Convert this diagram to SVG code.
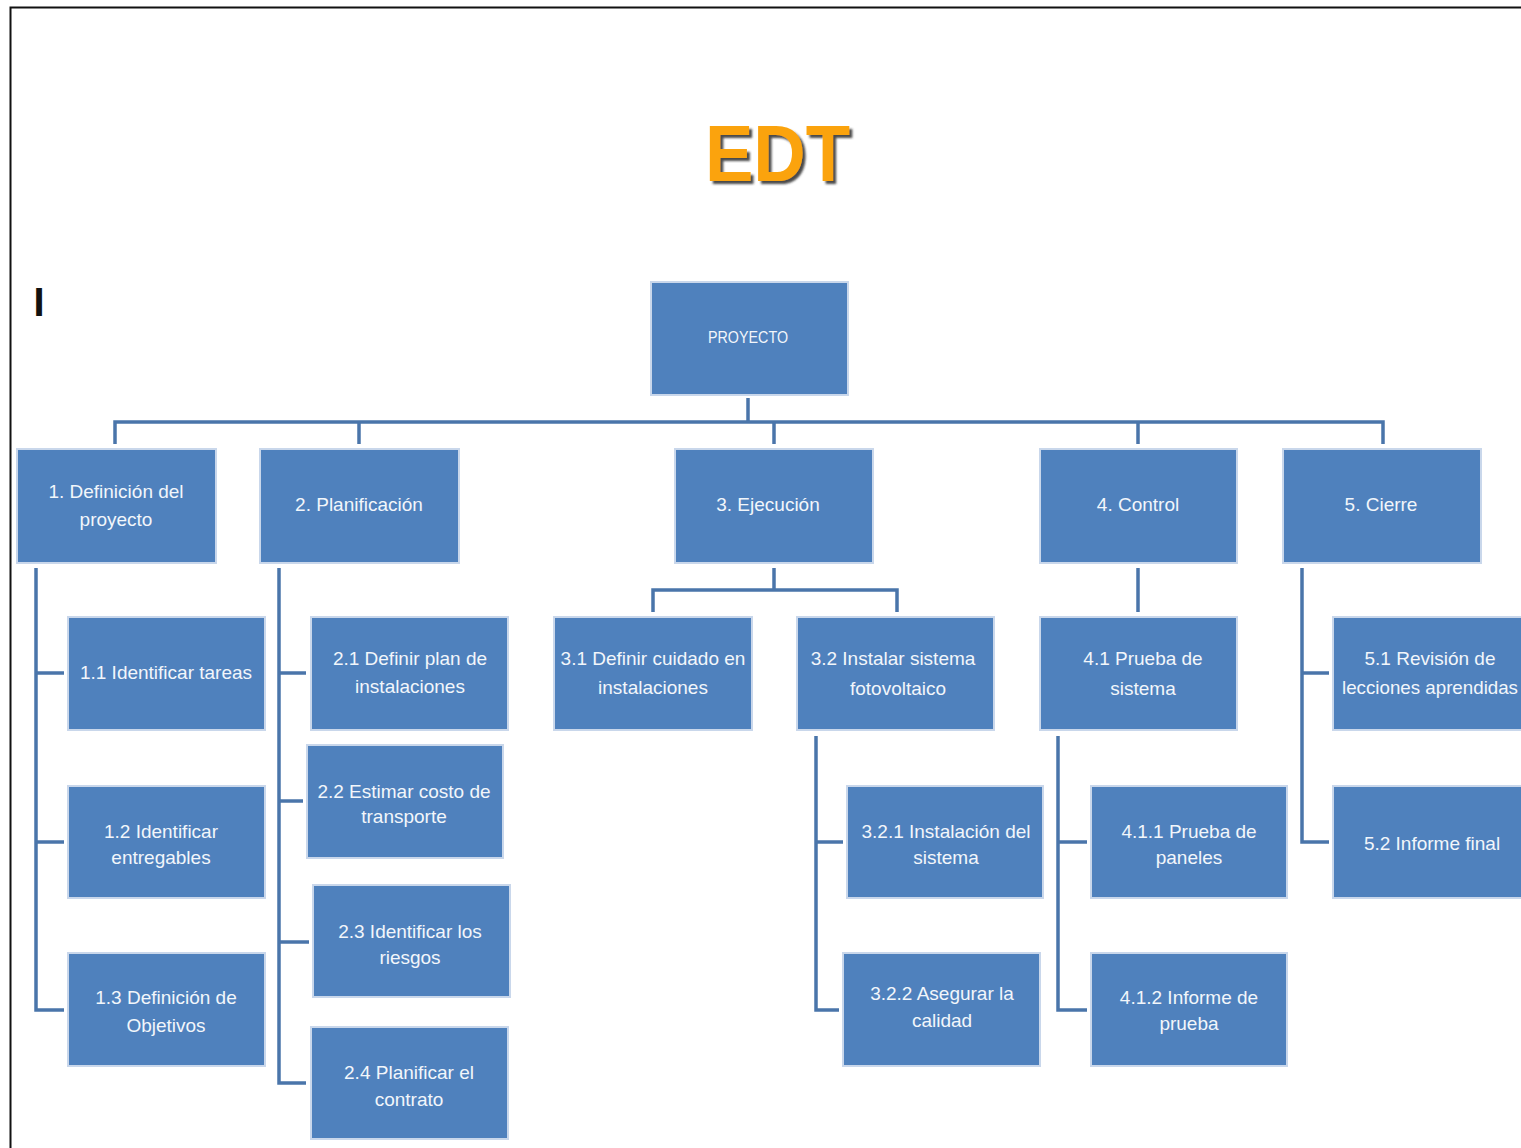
<svg xmlns="http://www.w3.org/2000/svg" width="1521" height="1148" viewBox="0 0 1521 1148">
  <defs>
    <filter id="titleShadow" x="-20%" y="-20%" width="140%" height="150%">
      <feDropShadow dx="3" dy="3" stdDeviation="1.2" flood-color="#2a2a2a" flood-opacity="0.85"/>
    </filter>
  </defs>
  <style>
    .box { fill: #4F81BD; stroke: #C9D7EB; stroke-width: 2; }
    .lbl { font-family: "Liberation Sans", Arial, sans-serif; font-size: 19px; fill: #F2F6FB; text-anchor: middle; }
    .lbl.small { font-size: 17px; }
    .wire { fill: none; stroke: #4A75AA; stroke-width: 3.5; }
    .title { font-family: "Liberation Sans", Arial, sans-serif; font-weight: bold; font-size: 80px; fill: #FBA30A; }
  </style>

  <!-- page background and frame -->
  <rect x="0" y="0" width="1521" height="1148" fill="#FFFFFF"/>
  <path d="M10.5 1148 V7.5 H1521" fill="none" stroke="#111" stroke-width="2"/>

  <!-- heading -->
  <text class="title" x="705" y="181" textLength="145" lengthAdjust="spacingAndGlyphs" filter="url(#titleShadow)">EDT</text>
  <text x="39" y="316" font-family="Liberation Sans, Arial, sans-serif" font-size="40" font-weight="bold" fill="#111" text-anchor="middle">I</text>

  <!-- connectors -->
  <g id="connectors">
    <!-- root to level 1 -->
    <path class="wire" d="M748 398 V422"/>
    <path class="wire" d="M115 444 V422 H1383 V444"/>
    <path class="wire" d="M359 422 V444"/>
    <path class="wire" d="M774 422 V444"/>
    <path class="wire" d="M1138 422 V444"/>
    <!-- 1. Definición del proyecto -->
    <path class="wire" d="M36 568 V1010 H64"/>
    <path class="wire" d="M36 673 H64"/>
    <path class="wire" d="M36 842 H64"/>
    <!-- 2. Planificación -->
    <path class="wire" d="M279 568 V1083 H306"/>
    <path class="wire" d="M279 673 H306"/>
    <path class="wire" d="M279 801 H303"/>
    <path class="wire" d="M279 942 H309"/>
    <!-- 3. Ejecución -->
    <path class="wire" d="M774 568 V590"/>
    <path class="wire" d="M653 612 V590 H897 V612"/>
    <!-- 3.2 sub-tasks -->
    <path class="wire" d="M816 736 V1010 H839"/>
    <path class="wire" d="M816 842 H843"/>
    <!-- 4. Control -->
    <path class="wire" d="M1138 568 V612"/>
    <!-- 4.1 sub-tasks -->
    <path class="wire" d="M1058 736 V1010 H1087"/>
    <path class="wire" d="M1058 842 H1087"/>
    <!-- 5. Cierre -->
    <path class="wire" d="M1302 568 V842 H1329"/>
    <path class="wire" d="M1302 673 H1329"/>
  </g>

  <!-- root -->
  <g id="n-proyecto">
    <rect class="box" x="651" y="282" width="197" height="113"/>
    <text class="lbl small" x="748" y="343" textLength="80" lengthAdjust="spacingAndGlyphs">PROYECTO</text>
  </g>

  <!-- level 1 -->
  <g id="n-1">
    <rect class="box" x="17" y="449" width="199" height="114"/>
    <text class="lbl" x="116" y="498">1. Definición del</text>
    <text class="lbl" x="116" y="526">proyecto</text>
  </g>
  <g id="n-2">
    <rect class="box" x="260" y="449" width="199" height="114"/>
    <text class="lbl" x="359" y="511">2. Planificación</text>
  </g>
  <g id="n-3">
    <rect class="box" x="675" y="449" width="198" height="114"/>
    <text class="lbl" x="768" y="511">3. Ejecución</text>
  </g>
  <g id="n-4">
    <rect class="box" x="1040" y="449" width="197" height="114"/>
    <text class="lbl" x="1138" y="511">4. Control</text>
  </g>
  <g id="n-5">
    <rect class="box" x="1283" y="449" width="198" height="114"/>
    <text class="lbl" x="1381" y="511">5. Cierre</text>
  </g>

  <!-- branch 1 -->
  <g id="n-1-1">
    <rect class="box" x="68" y="617" width="197" height="113"/>
    <text class="lbl" x="166" y="679">1.1 Identificar tareas</text>
  </g>
  <g id="n-1-2">
    <rect class="box" x="68" y="786" width="197" height="112"/>
    <text class="lbl" x="161" y="838">1.2 Identificar</text>
    <text class="lbl" x="161" y="864">entregables</text>
  </g>
  <g id="n-1-3">
    <rect class="box" x="68" y="953" width="197" height="113"/>
    <text class="lbl" x="166" y="1004">1.3 Definición de</text>
    <text class="lbl" x="166" y="1032">Objetivos</text>
  </g>

  <!-- branch 2 -->
  <g id="n-2-1">
    <rect class="box" x="311" y="617" width="197" height="113"/>
    <text class="lbl" x="410" y="665">2.1 Definir plan de</text>
    <text class="lbl" x="410" y="693">instalaciones</text>
  </g>
  <g id="n-2-2">
    <rect class="box" x="307" y="745" width="196" height="113"/>
    <text class="lbl" x="404" y="798">2.2 Estimar costo de</text>
    <text class="lbl" x="404" y="823">transporte</text>
  </g>
  <g id="n-2-3">
    <rect class="box" x="313" y="885" width="197" height="112"/>
    <text class="lbl" x="410" y="938">2.3 Identificar los</text>
    <text class="lbl" x="410" y="964">riesgos</text>
  </g>
  <g id="n-2-4">
    <rect class="box" x="311" y="1027" width="197" height="112"/>
    <text class="lbl" x="409" y="1079">2.4 Planificar el</text>
    <text class="lbl" x="409" y="1106">contrato</text>
  </g>

  <!-- branch 3 -->
  <g id="n-3-1">
    <rect class="box" x="554" y="617" width="198" height="113"/>
    <text class="lbl" x="653" y="665">3.1 Definir cuidado en</text>
    <text class="lbl" x="653" y="694">instalaciones</text>
  </g>
  <g id="n-3-2">
    <rect class="box" x="797" y="617" width="197" height="113"/>
    <text class="lbl" x="893" y="665">3.2 Instalar sistema</text>
    <text class="lbl" x="898" y="695">fotovoltaico</text>
  </g>
  <g id="n-3-2-1">
    <rect class="box" x="847" y="786" width="196" height="112"/>
    <text class="lbl" x="946" y="838">3.2.1 Instalación del</text>
    <text class="lbl" x="946" y="864">sistema</text>
  </g>
  <g id="n-3-2-2">
    <rect class="box" x="843" y="953" width="197" height="113"/>
    <text class="lbl" x="942" y="1000">3.2.2 Asegurar la</text>
    <text class="lbl" x="942" y="1027">calidad</text>
  </g>

  <!-- branch 4 -->
  <g id="n-4-1">
    <rect class="box" x="1040" y="617" width="197" height="113"/>
    <text class="lbl" x="1143" y="665">4.1 Prueba de</text>
    <text class="lbl" x="1143" y="695">sistema</text>
  </g>
  <g id="n-4-1-1">
    <rect class="box" x="1091" y="786" width="196" height="112"/>
    <text class="lbl" x="1189" y="838">4.1.1 Prueba de</text>
    <text class="lbl" x="1189" y="864">paneles</text>
  </g>
  <g id="n-4-1-2">
    <rect class="box" x="1091" y="953" width="196" height="113"/>
    <text class="lbl" x="1189" y="1004">4.1.2 Informe de</text>
    <text class="lbl" x="1189" y="1030">prueba</text>
  </g>

  <!-- branch 5 -->
  <g id="n-5-1">
    <rect class="box" x="1333" y="617" width="200" height="113"/>
    <text class="lbl" x="1430" y="665">5.1 Revisión de</text>
    <text class="lbl" x="1430" y="694" textLength="176" lengthAdjust="spacingAndGlyphs">lecciones aprendidas</text>
  </g>
  <g id="n-5-2">
    <rect class="box" x="1333" y="786" width="200" height="112"/>
    <text class="lbl" x="1432" y="850">5.2 Informe final</text>
  </g>
</svg>
